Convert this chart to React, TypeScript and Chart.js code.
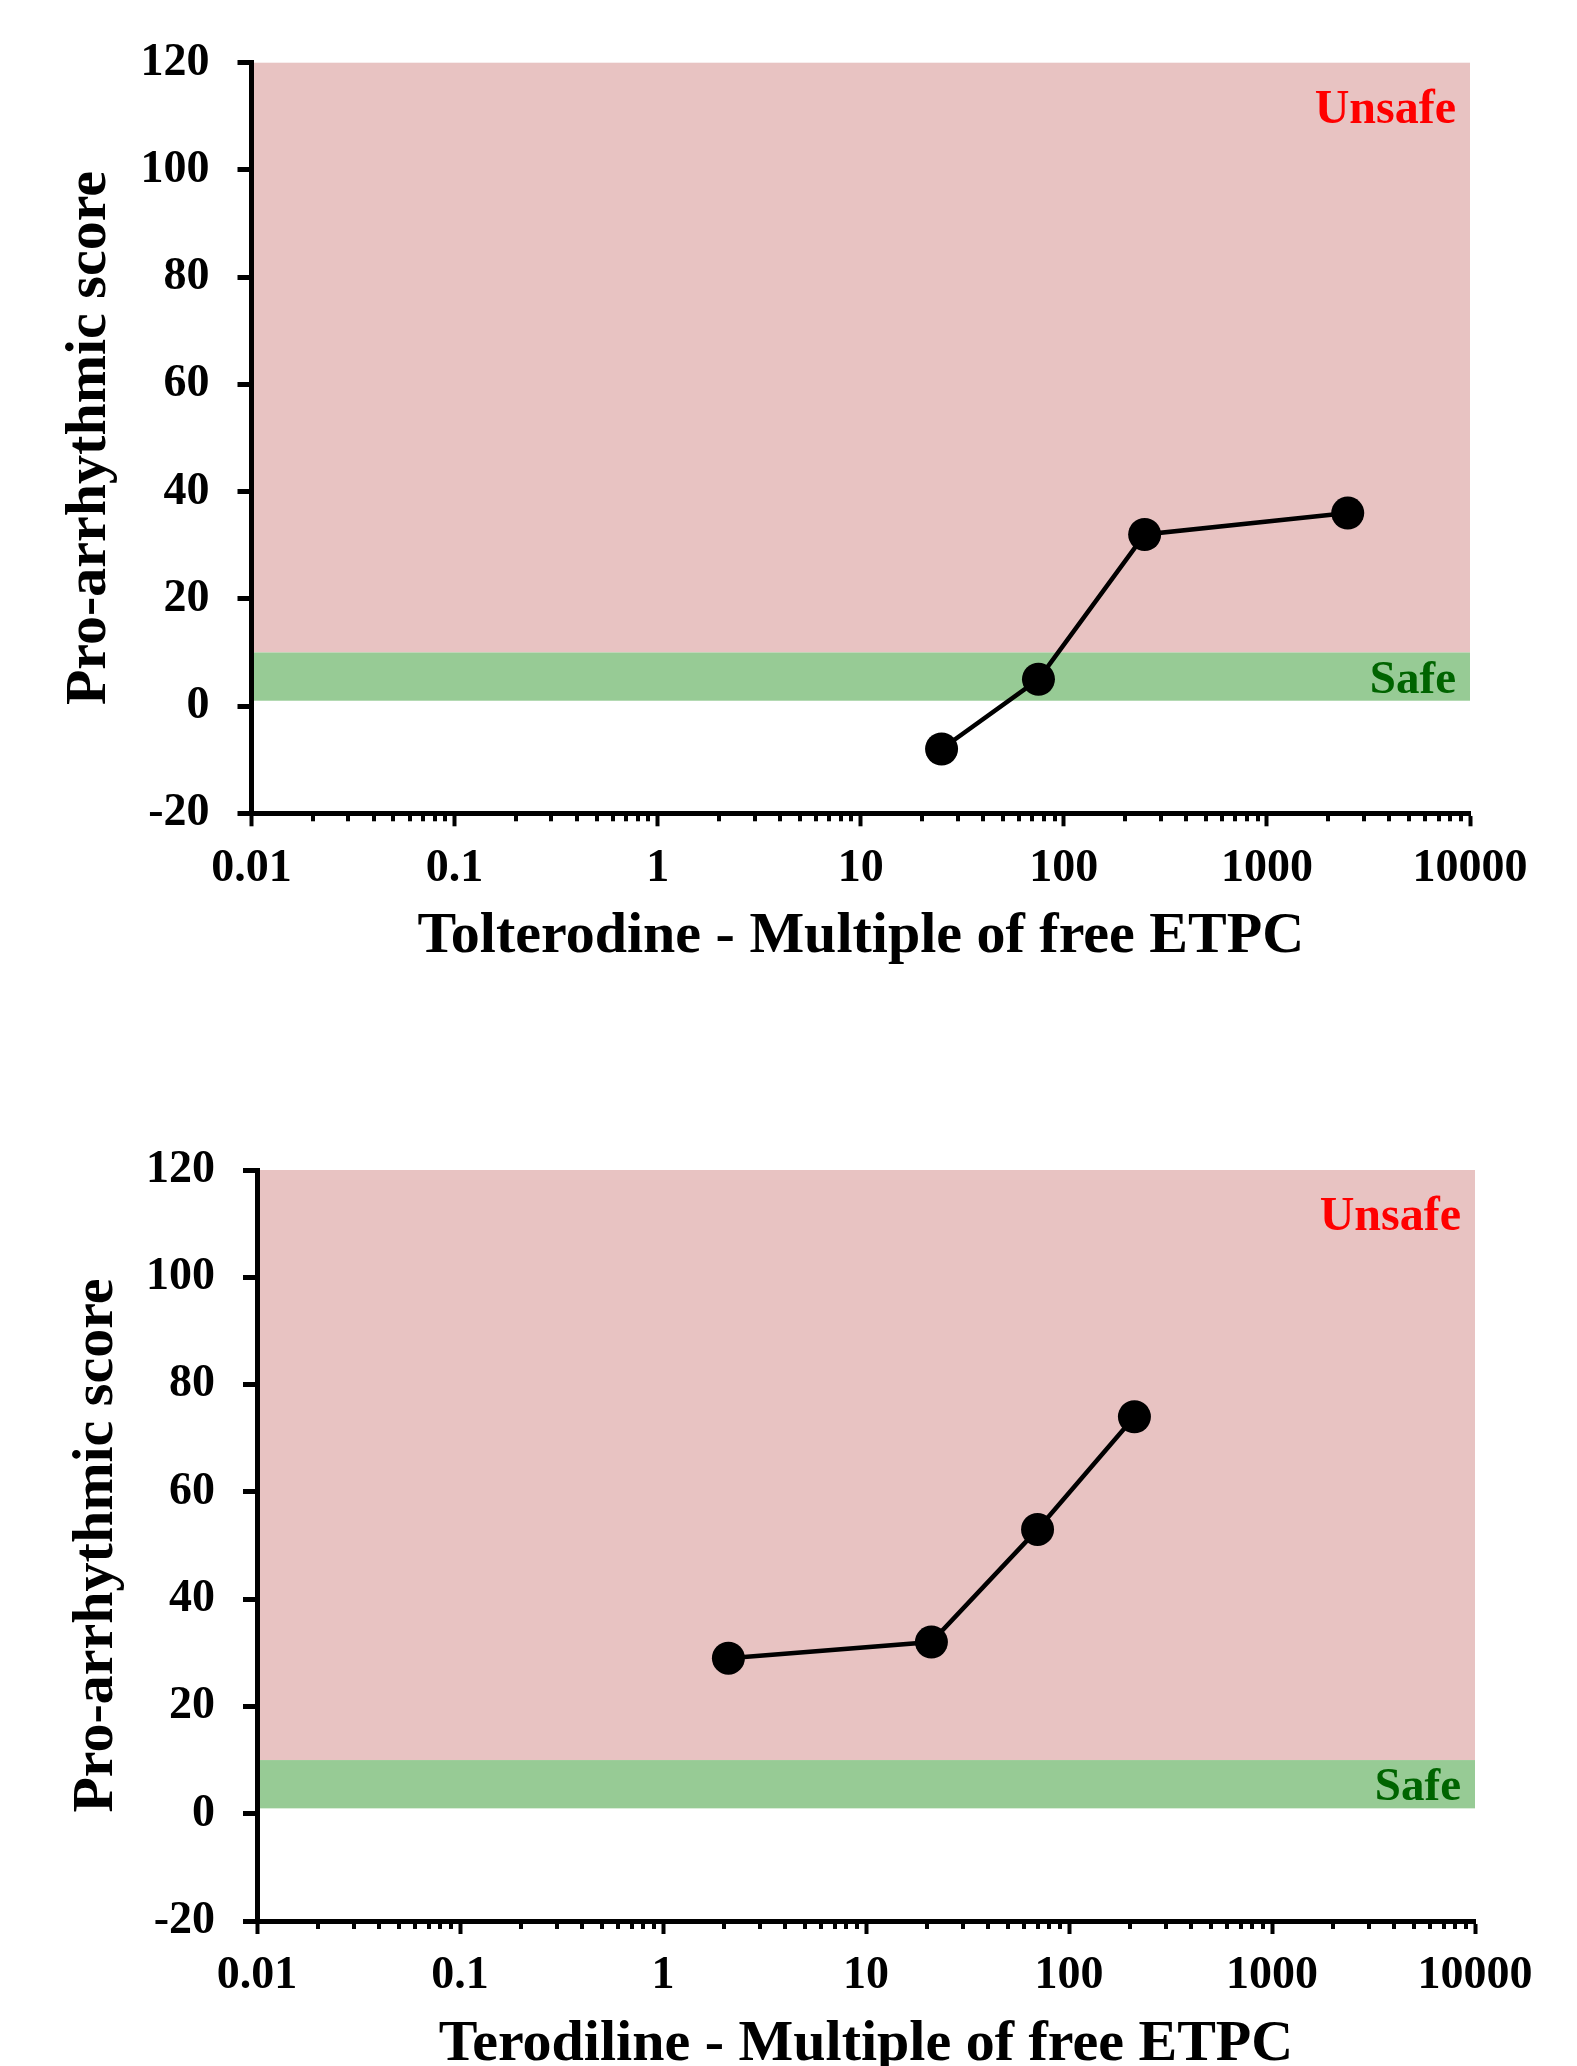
import React, { useEffect, useRef } from "react";
import { Chart, registerables } from "chart.js";

Chart.register(...registerables);

// ---------------- data ----------------
const X_TICKS = [0.01, 0.1, 1, 10, 100, 1000, 10000];
const X_TICK_LABELS = ["0.01", "0.1", "1", "10", "100", "1000", "10000"];
const Y_TICKS = [-20, 0, 20, 40, 60, 80, 100, 120];

const tolterodineX = [25, 75, 250, 2500];
const tolterodineY = [-8, 5, 32, 36];

const terodilineX = [2.1, 21, 70, 210];
const terodilineY = [29, 32, 53, 74];

const SAFE_BAND = [1, 10];
const UNSAFE_BAND = [10, 120];
const ZONE_LABELS = ["Unsafe", "Safe"];

const Y_TITLE = "Pro-arrhythmic score";
const X_TITLE_1 = "Tolterodine - Multiple of free ETPC";
const X_TITLE_2 = "Terodiline - Multiple of free ETPC";

// ---------------- styling ----------------
const FONT = "'Liberation Serif', 'Times New Roman', serif";
const PINK = "#E8C3C2";
const GREEN = "#97CB95";
const RED = "#FF0000";
const DARK_GREEN = "#006400";

const zonePlugin = {
  id: "zones",
  beforeDraw(chart: any) {
    const { ctx, scales } = chart;
    const x = scales.x;
    const y = scales.y;
    const left = x.getPixelForValue(X_TICKS[0]);
    const right = x.getPixelForValue(X_TICKS[X_TICKS.length - 1]);
    ctx.save();
    const bands: [number[], string][] = [
      [UNSAFE_BAND, PINK],
      [SAFE_BAND, GREEN],
    ];
    for (const [b, c] of bands) {
      const top = y.getPixelForValue(b[1]);
      const bottom = y.getPixelForValue(b[0]);
      ctx.fillStyle = c;
      ctx.fillRect(left, top, right - left, bottom - top);
    }
    ctx.restore();
  },
  afterDraw(chart: any) {
    const { ctx, scales, chartArea } = chart;
    const x = scales.x;
    const y = scales.y;
    ctx.save();
    // minor log ticks
    ctx.strokeStyle = "#000";
    ctx.lineWidth = 4;
    for (let d = -2; d <= 3; d++) {
      for (let k = 2; k <= 9; k++) {
        const v = k * Math.pow(10, d);
        const px = Math.round(x.getPixelForValue(v));
        ctx.beginPath();
        ctx.moveTo(px, x.top - 2);
        ctx.lineTo(px, x.top + 8);
        ctx.stroke();
      }
    }
    // zone labels
    ctx.textAlign = "right";
    ctx.textBaseline = "alphabetic";
    ctx.font = `bold 48px ${FONT}`;
    ctx.fillStyle = RED;
    ctx.fillText(ZONE_LABELS[0], chartArea.right - 14, y.getPixelForValue(UNSAFE_BAND[1]) + 60);
    ctx.font = `bold 47px ${FONT}`;
    ctx.fillStyle = DARK_GREEN;
    ctx.fillText(ZONE_LABELS[1], chartArea.right - 14, y.getPixelForValue(SAFE_BAND[0]) - 8);
    ctx.restore();
  },
};

type PanelProps = {
  xs: number[];
  ys: number[];
  xTitle: string;
  top: number;
  height: number;
  padTop: number;
  padRight: number;
  padBottom: number;
  yAxisWidth: number;
  xAxisHeight: number;
  yTitlePad: number;
};

function Panel(p: PanelProps) {
  const ref = useRef<HTMLCanvasElement | null>(null);
  useEffect(() => {
    if (!ref.current) return;
    const tickFont = { family: FONT, size: 46, weight: "bold" as const };
    const titleFont = { family: FONT, size: 58, weight: "bold" as const };
    const chart = new Chart(ref.current, {
      type: "scatter",
      data: {
        datasets: [
          {
            data: p.xs.map((x, i) => ({ x, y: p.ys[i] })),
            showLine: true,
            borderColor: "#000",
            borderWidth: 4.5,
            pointRadius: 16.5,
            pointHoverRadius: 16.5,
            pointBackgroundColor: "#000",
            pointBorderWidth: 0,
          },
        ],
      },
      options: {
        responsive: false,
        animation: false,
        events: [],
        layout: {
          padding: { top: p.padTop, right: p.padRight, bottom: p.padBottom, left: 0 },
        },
        plugins: {
          legend: { display: false },
          tooltip: { enabled: false },
        },
        scales: {
          x: {
            type: "logarithmic",
            min: X_TICKS[0],
            max: X_TICKS[X_TICKS.length - 1],
            afterBuildTicks: (s: any) => {
              s.ticks = X_TICKS.map((v) => ({ value: v }));
            },
            afterFit: (s: any) => {
              s.height = p.xAxisHeight;
            },
            grid: {
              display: true,
              drawOnChartArea: false,
              drawTicks: true,
              tickLength: 13,
              tickWidth: 4,
              tickColor: "#000",
            },
            border: { display: true, width: 5, color: "#000" },
            ticks: {
              autoSkip: false,
              maxRotation: 0,
              minRotation: 0,
              padding: 15,
              color: "#000",
              font: tickFont,
              callback: (_v: any, i: number) => X_TICK_LABELS[i],
            },
            title: {
              display: true,
              text: p.xTitle,
              color: "#000",
              font: titleFont,
              padding: { top: 0, bottom: 0 },
            },
          },
          y: {
            type: "linear",
            min: Y_TICKS[0],
            max: Y_TICKS[Y_TICKS.length - 1],
            afterBuildTicks: (s: any) => {
              s.ticks = Y_TICKS.map((v) => ({ value: v }));
            },
            afterFit: (s: any) => {
              s.width = p.yAxisWidth;
            },
            grid: {
              display: true,
              drawOnChartArea: false,
              drawTicks: true,
              tickLength: 14,
              tickWidth: 5,
              tickColor: "#000",
            },
            border: { display: true, width: 5, color: "#000" },
            ticks: {
              padding: 28,
              color: "#000",
              font: tickFont,
              callback: (v: any) => String(v),
            },
            title: {
              display: true,
              text: Y_TITLE,
              color: "#000",
              font: titleFont,
              padding: { top: p.yTitlePad, bottom: 0 },
            },
          },
        },
      },
      plugins: [zonePlugin],
    } as any);
    return () => chart.destroy();
  }, []);
  return (
    <canvas
      ref={ref}
      width={1577}
      height={p.height}
      style={{ position: "absolute", left: 0, top: p.top, width: 1577, height: p.height }}
    />
  );
}

export default function App() {
  return (
    <div
      style={{
        position: "absolute",
        left: 0,
        top: 0,
        width: 1577,
        height: 2066,
        overflow: "hidden",
        background: "#fff",
      }}
    >
      <Panel
        xs={tolterodineX}
        ys={tolterodineY}
        xTitle={X_TITLE_1}
        top={0}
        height={1000}
        padTop={62.7}
        padRight={107}
        padBottom={28.4}
        yAxisWidth={251.5}
        xAxisHeight={158.3}
        yTitlePad={55}
      />
      <Panel
        xs={terodilineX}
        ys={terodilineY}
        xTitle={X_TITLE_2}
        top={1000}
        height={1080}
        padTop={170}
        padRight={102}
        padBottom={0.2}
        yAxisWidth={257}
        xAxisHeight={158.8}
        yTitlePad={62}
      />
    </div>
  );
}
